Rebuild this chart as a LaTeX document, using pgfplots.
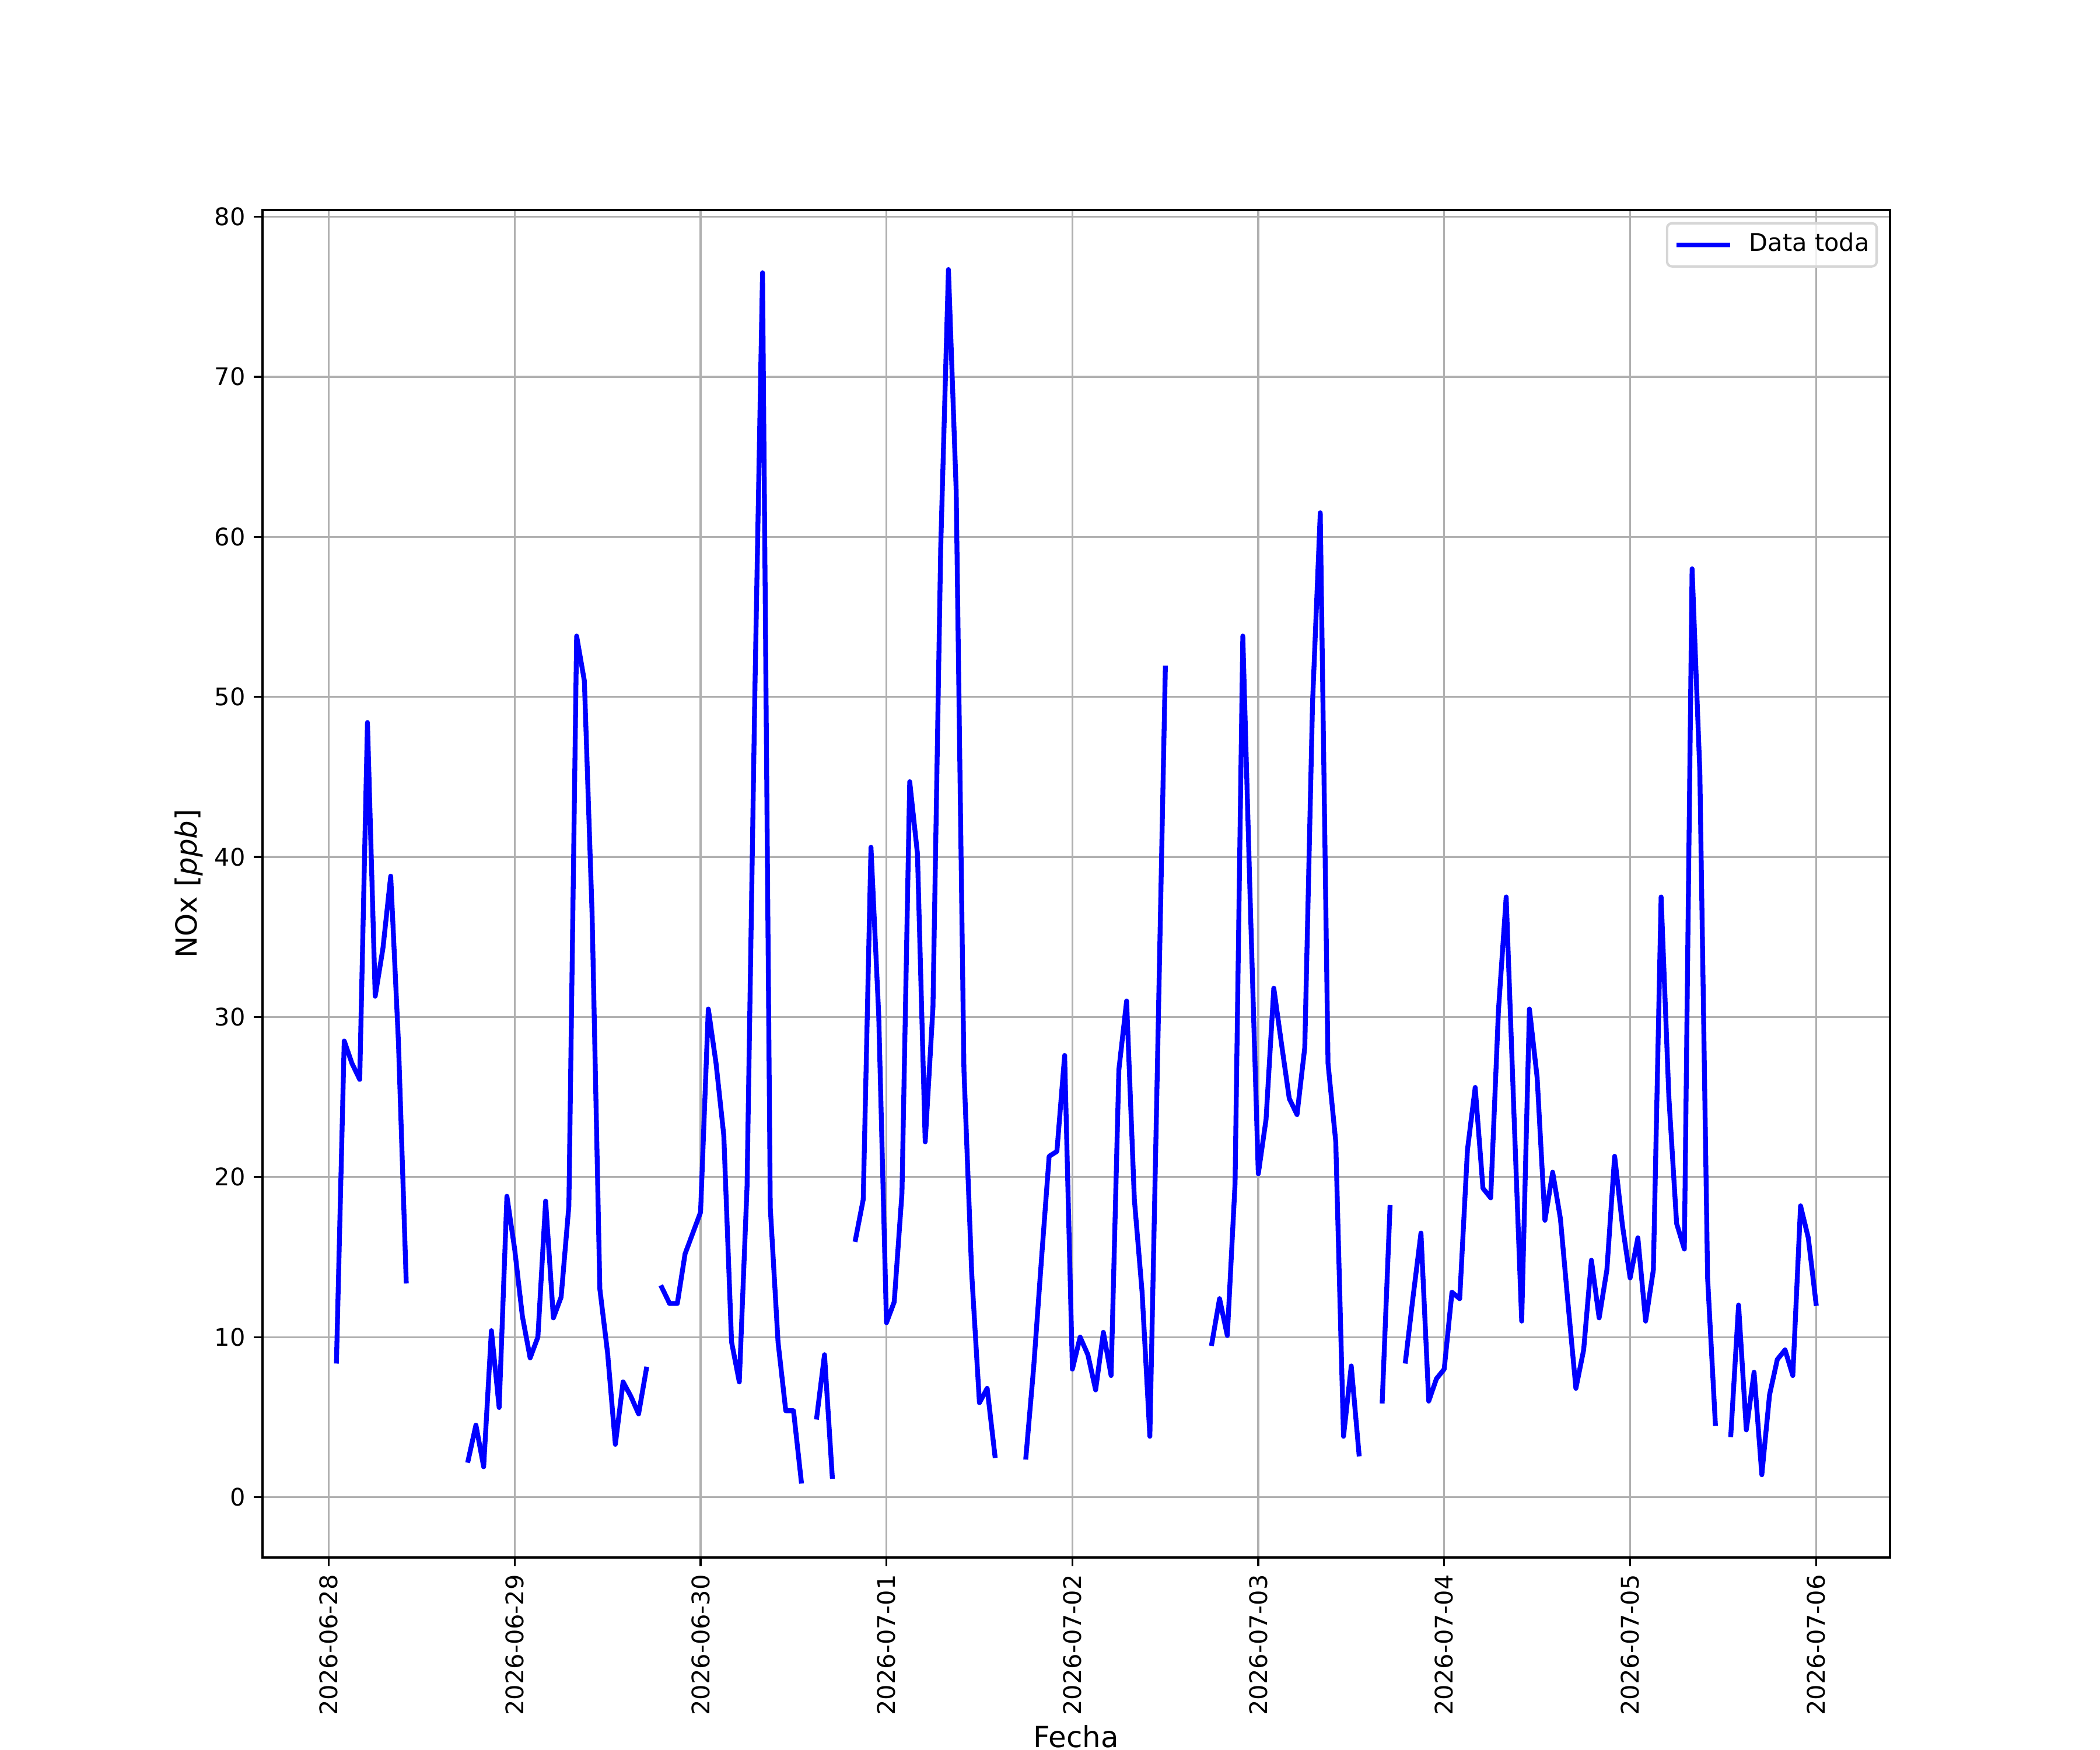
\documentclass[border=0pt]{standalone}
\usepackage{fontspec}
\setmainfont{DejaVu Sans}
\usepackage{pgfplots}
\pgfplotsset{compat=1.18}
\usepackage{pgfplotstable}
\definecolor{gridgray}{HTML}{B0B0B0}
\definecolor{legendgray}{HTML}{D6D6D6}

\pgfplotstableread{
h v
1 8.5
2 28.5
3 27.1
4 26.1
5 48.4
6 31.3
7 34.3
8 38.8
9 28.4
10 13.5
11 nan
12 nan
13 nan
14 nan
15 nan
16 nan
17 nan
18 2.3
19 4.5
20 1.9
21 10.4
22 5.6
23 18.8
24 15.5
25 11.3
26 8.7
27 10.0
28 18.5
29 11.2
30 12.5
31 18.2
32 53.8
33 51.0
34 36.4
35 13.0
36 9.0
37 3.3
38 7.2
39 6.3
40 5.2
41 8.0
42 nan
43 13.1
44 12.1
45 12.1
46 15.2
47 16.5
48 17.8
49 30.5
50 27.1
51 22.6
52 9.7
53 7.2
54 19.4
55 50.0
56 76.5
57 18.1
58 9.7
59 5.4
60 5.4
61 1.0
62 nan
63 5.0
64 8.9
65 1.3
66 nan
67 nan
68 16.1
69 18.6
70 40.6
71 30.1
72 10.9
73 12.2
74 19.0
75 44.7
76 40.2
77 22.2
78 30.6
79 59.3
80 76.7
81 62.9
82 26.7
83 14.0
84 5.9
85 6.8
86 2.6
87 nan
88 nan
89 nan
90 2.5
91 8.1
92 14.8
93 21.3
94 21.6
95 27.6
96 8.0
97 10.0
98 8.9
99 6.7
100 10.3
101 7.6
102 26.7
103 31.0
104 18.6
105 12.8
106 3.8
107 27.5
108 51.8
109 nan
110 nan
111 nan
112 nan
113 nan
114 9.6
115 12.4
116 10.1
117 19.6
118 53.8
119 36.5
120 20.2
121 23.6
122 31.8
123 28.3
124 24.9
125 23.9
126 28.1
127 49.6
128 61.5
129 27.1
130 22.2
131 3.8
132 8.2
133 2.7
134 nan
135 nan
136 6.0
137 18.1
138 nan
139 8.5
140 12.6
141 16.5
142 6.0
143 7.4
144 8.0
145 12.8
146 12.4
147 21.7
148 25.6
149 19.3
150 18.7
151 30.4
152 37.5
153 24.0
154 11.0
155 30.5
156 26.2
157 17.3
158 20.3
159 17.4
160 12.0
161 6.8
162 9.2
163 14.8
164 11.2
165 14.2
166 21.3
167 17.0
168 13.7
169 16.2
170 11.0
171 14.2
172 37.5
173 25.0
174 17.1
175 15.5
176 58.0
177 45.3
178 13.7
179 4.6
180 nan
181 3.9
182 12.0
183 4.2
184 7.8
185 1.4
186 6.4
187 8.6
188 9.2
189 7.6
190 18.2
191 16.2
192 12.1
}\datatbl

\begin{document}
\begin{tikzpicture}
\path[use as bounding box] (0,0) rectangle (12in,10in);
\begin{axis}[
  at={(1.5in,1.1in)}, anchor=south west,
  scale only axis, width=9.3in, height=7.7in,
  xmin=-8.55, xmax=201.55, ymin=-3.77, ymax=80.42,
  xtick={0,24,...,192},
  xticklabels={2026-06-28,2026-06-29,2026-06-30,2026-07-01,2026-07-02,2026-07-03,2026-07-04,2026-07-05,2026-07-06},
  ytick={0,10,...,80},
  grid=major,
  major grid style={gridgray, line width=0.8pt},
  tick align=outside, tick pos=left,
  major tick length=3.5pt,
  tick style={black, line width=0.8pt},
  axis line style={black, line width=0.8pt},
  /pgf/number format/assume math mode=true,
  xticklabel style={rotate=90, anchor=east, font=\fontsize{10}{12}\selectfont},
  yticklabel style={font=\fontsize{10}{12}\selectfont},
  xlabel={Fecha}, ylabel={NOx [\textit{ppb}]},
  label style={font=\fontsize{12}{14}\selectfont},
  xlabel style={inner sep=0pt, yshift=-0.5pt},
  ylabel style={inner sep=1.3pt},
  unbounded coords=jump,
  legend style={at={(1,1)}, anchor=north east, xshift=-5pt, yshift=-5pt,
    draw=legendgray, line width=1pt, rounded corners=2pt,
    fill=white, fill opacity=0.8, text opacity=1,
    inner xsep=3pt, inner ysep=4pt,
    font=\fontsize{10}{12}\selectfont,
    nodes={inner sep=0pt, text height=7.6pt, text depth=2.2pt}},
  legend cell align=left,
  legend image code/.code={\draw[#1, line cap=butt] (0pt,0pt) -- (22pt,0pt);},
]
\addplot[color={rgb,1:red,0;green,0;blue,1}, line width=2pt, line join=round, line cap=rect] table[x=h, y=v] {\datatbl};
\addlegendentry{\hspace*{7pt}Data toda}
\end{axis}
\end{tikzpicture}
\end{document}
